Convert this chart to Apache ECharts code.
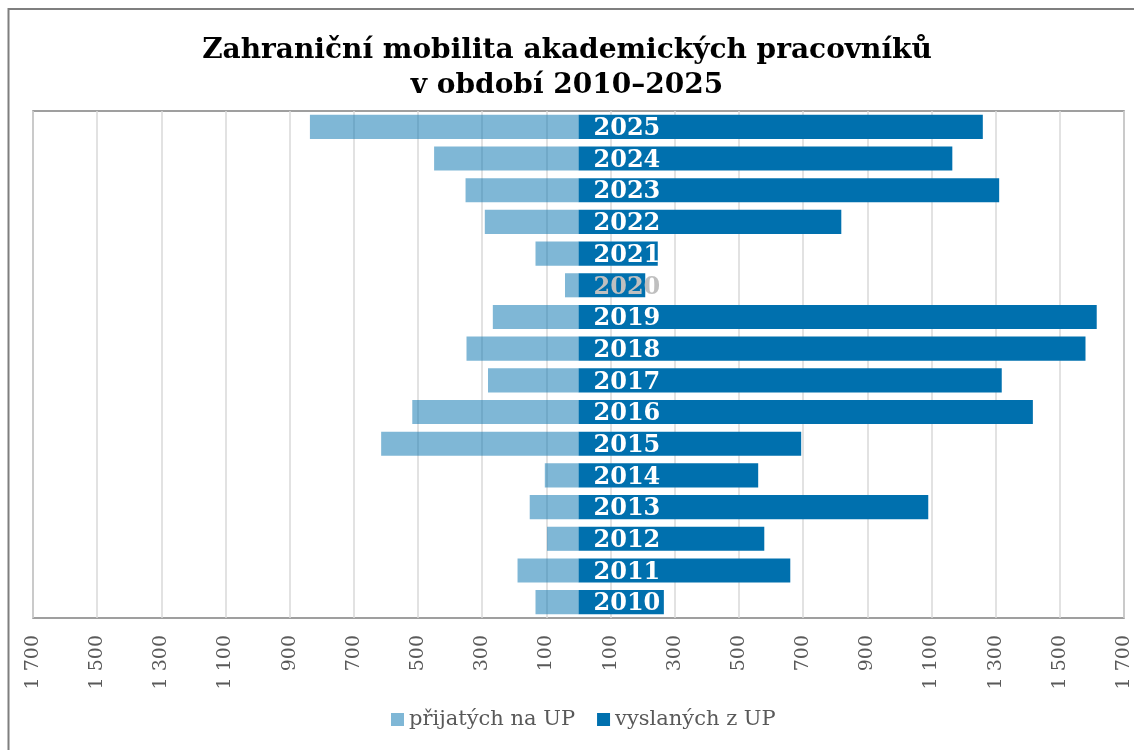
<!DOCTYPE html>
<html>
<head>
<meta charset="utf-8">
<script src="https://cdn.jsdelivr.net/npm/echarts@6/dist/echarts.min.js"></script>
<style>
  html, body { margin: 0; padding: 0; background: #fff; }
  #chart { width: 1134px; height: 750px; }
</style>
</head>
<body>
<div id="chart"></div>
<script>
// roky odspodu nahoru
let years = ['2010', '2011', '2012', '2013', '2014', '2015', '2016', '2017',
             '2018', '2019', '2020', '2021', '2022', '2023', '2024', '2025'];
// přijatých na UP (kreslí se doleva)
let received = [134, 190, 98, 152, 105, 615, 518, 282, 349, 267, 42, 134, 292, 352, 450, 837];
// vyslaných z UP
let sent = [266, 660, 579, 1090, 560, 694, 1416, 1319, 1580, 1615, 208, 247, 819, 1311, 1165, 1260];
// popisky osy x (absolutní hodnoty)
let tickValues = [-1700, -1500, -1300, -1100, -900, -700, -500, -300, -100,
                  100, 300, 500, 700, 900, 1100, 1300, 1500, 1700];

let serif = '"DejaVu Serif", "Liberation Serif", serif';

function fmt(v) {
    return String(Math.abs(v)).replace(/\B(?=(\d{3})+(?!\d))/g, ' ');
}

let option = {
    animation: false,
    title: {
        text: 'Zahraniční mobilita akademických pracovníků\nv období 2010–2025',
        left: 'center',
        top: 28,
        textStyle: {
            fontFamily: serif,
            fontWeight: 'bold',
            fontSize: 28,
            lineHeight: 35,
            color: '#000'
        }
    },
    legend: {
        left: 386,
        top: 704,
        icon: 'rect',
        itemWidth: 13,
        itemHeight: 13,
        itemGap: 22,
        textStyle: {
            fontFamily: serif,
            fontSize: 21,
            color: '#595959'
        },
        data: ['přijatých na UP', 'vyslaných z UP']
    },
    grid: {
        left: 33,
        top: 111,
        width: 1091,
        height: 507,
        show: true,
        borderColor: '#808080',
        borderWidth: 1.5,
        containLabel: false
    },
    xAxis: {
        type: 'value',
        min: -1700,
        max: 1700,
        axisLine: { show: false },
        axisTick: { show: false, customValues: tickValues },
        axisLabel: {
            customValues: tickValues,
            rotate: 90,
            margin: 17,
            fontFamily: serif,
            fontSize: 19,
            color: '#595959',
            formatter: fmt
        },
        splitLine: {
            show: true,
            lineStyle: { color: '#d9d9d9', width: 1.5 }
        }
    },
    yAxis: {
        type: 'category',
        data: years,
        axisLine: { show: false },
        axisTick: { show: false },
        axisLabel: { show: false },
        splitLine: { show: false }
    },
    series: [
        {
            name: 'přijatých na UP',
            type: 'bar',
            barWidth: '76%',
            barGap: '-100%',
            itemStyle: { color: 'rgba(0, 112, 174, 0.5)' },
            data: received.map(v => -v)
        },
        {
            name: 'vyslaných z UP',
            type: 'bar',
            barWidth: '76%',
            barGap: '-100%',
            itemStyle: { color: '#0070ae' },
            label: {
                show: true,
                position: 'insideLeft',
                distance: 15,
                offset: [0, 2],
                fontFamily: serif,
                fontWeight: 'bold',
                fontSize: 24,
                color: '#fff',
                formatter: p => p.name
            },
            data: sent.map((v, i) => years[i] === '2020'
                ? { value: v, label: { color: '#bfbfbf' } }
                : v)
        }
    ],
    graphic: [
        {
            type: 'rect',
            shape: { x: 8.5, y: 9, width: 1200, height: 800 },
            style: { fill: 'none', stroke: '#7f7f7f', lineWidth: 2 },
            silent: true
        }
    ]
};

let myChart = echarts.init(document.getElementById('chart'));
myChart.setOption(option);
</script>
</body>
</html>
